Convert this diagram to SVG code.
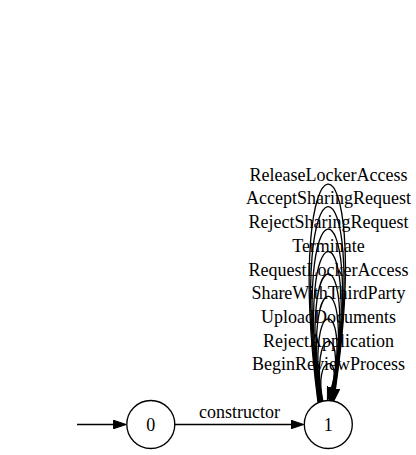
<svg xmlns="http://www.w3.org/2000/svg" width="416" height="455" viewBox="0 0 416 455">
<style>
text{font-family:"Liberation Serif","Times New Roman",serif;font-size:18px;fill:#000}
.lbl{text-anchor:middle}
.node circle{fill:none;stroke:#000;stroke-width:1.33}
.edge{fill:none;stroke:#000;stroke-width:1.33;marker-end:url(#ah)}
</style>
<defs>
<marker id="ah" viewBox="0 0 13.3 9.4" refX="0" refY="4.7" markerWidth="13.3" markerHeight="9.4" markerUnits="userSpaceOnUse" orient="auto">
<path d="M0,0.4 L12.8,4.7 L0,9 Z" fill="#000" stroke="#000" stroke-width="1"/>
</marker>
</defs>
<rect width="416" height="455" fill="#fff"/>
<g id="connectors">
<path class="edge" d="M77,424.5 L113.4,424.5"/>
<path class="edge" d="M174.8,424.5 L291,424.5"/>
<path class="edge" d="M318,402.5 C281,113.7 375,113.7 335.5,388.5"/>
<path class="edge" d="M318.6,402.3 C285,143.7 371,143.7 335,388.4"/>
<path class="edge" d="M319.2,402.1 C289,173.7 367,173.7 334.5,388.3"/>
<path class="edge" d="M319.8,401.9 C293,203.7 363,203.7 334,388.2"/>
<path class="edge" d="M320.4,401.7 C297,233.7 359,233.7 333.5,388.1"/>
<path class="edge" d="M321,401.5 C301,263.7 355,263.7 333,388"/>
<path class="edge" d="M321.6,401.3 C305,293.7 351,293.7 332.5,387.9"/>
<path class="edge" d="M322.2,401.1 C309,323.7 347,323.7 332,387.8"/>
<path class="edge" d="M322.8,400.9 C313,353.7 343,353.7 331.5,387.7"/>
<text class="lbl" x="239.5" y="418">constructor</text>
<text class="lbl" x="328.5" y="180.7">ReleaseLockerAccess</text>
<text class="lbl" x="328.5" y="204.4">AcceptSharingRequest</text>
<text class="lbl" x="328.5" y="228.1">RejectSharingRequest</text>
<text class="lbl" x="328.5" y="251.8">Terminate</text>
<text class="lbl" x="328.5" y="275.5">RequestLockerAccess</text>
<text class="lbl" x="328.5" y="299.2">ShareWithThirdParty</text>
<text class="lbl" x="328.5" y="322.9">UploadDocuments</text>
<text class="lbl" x="328.5" y="346.6">RejectApplication</text>
<text class="lbl" x="328.5" y="370.3">BeginReviewProcess</text>
</g>
<g id="node0" class="node">
<circle cx="150.8" cy="424.5" r="24"/>
<text class="lbl" x="150.8" y="430.8">0</text>
</g>
<g id="node1" class="node">
<circle cx="328.3" cy="424.5" r="24"/>
<text class="lbl" x="328.3" y="430.8">1</text>
</g>
</svg>
